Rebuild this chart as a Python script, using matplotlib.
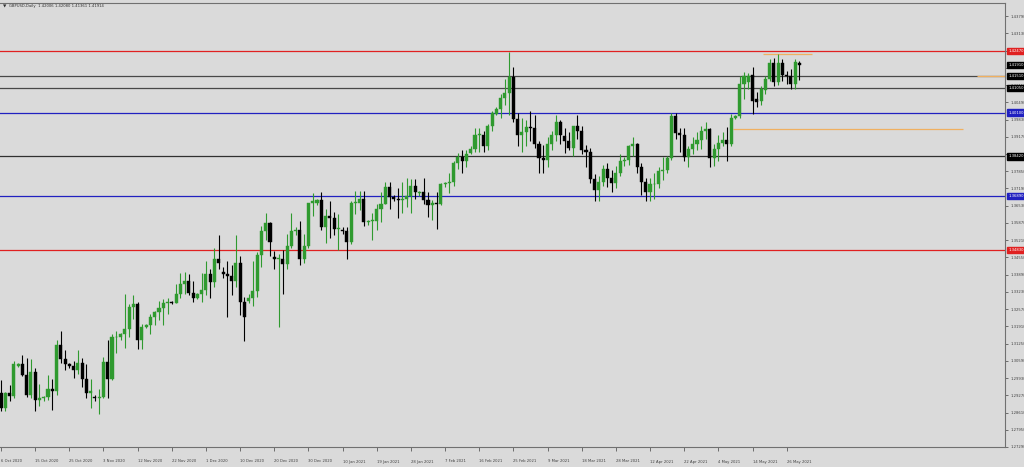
import numpy as np
import matplotlib.pyplot as plt
from matplotlib.transforms import blended_transform_factory

# ---- Data (daily GBPUSD candles) ----
opens = [1.2935, 1.2880, 1.2935, 1.2925, 1.3040, 1.3045, 1.3005, 1.2930, 1.3015, 1.2910,
         1.2915, 1.2920, 1.2950, 1.2945, 1.3120, 1.3065, 1.3045, 1.3040, 1.3025, 1.3050,
         1.2990, 1.2935, 1.2920, 1.2915, 1.2920, 1.3055, 1.2990, 1.3150, 1.3150, 1.3160,
         1.3180, 1.3265, 1.3275, 1.3140, 1.3190, 1.3195, 1.3225, 1.3245, 1.3260, 1.3280,
         1.3285, 1.3280, 1.3315, 1.3355, 1.3365, 1.3320, 1.3300, 1.3315, 1.3330, 1.3390,
         1.3360, 1.3450, 1.3400, 1.3390, 1.3385, 1.3365, 1.3435, 1.3285, 1.3290, 1.3300,
         1.3325, 1.3465, 1.3555, 1.3585, 1.3455, 1.3450, 1.3450, 1.3430, 1.3500, 1.3555,
         1.3560, 1.3450, 1.3500, 1.3665, 1.3665, 1.3675, 1.3570, 1.3615, 1.3605, 1.3565,
         1.3560, 1.3555, 1.3515, 1.3665, 1.3665, 1.3680, 1.3590, 1.3595, 1.3595, 1.3640,
         1.3660, 1.3725, 1.3685, 1.3680, 1.3675, 1.3680, 1.3690, 1.3730, 1.3700, 1.3705,
         1.3675, 1.3655, 1.3665, 1.3660, 1.3735, 1.3740, 1.3745, 1.3815, 1.3840, 1.3825,
         1.3855, 1.3870, 1.3925, 1.3925, 1.3880, 1.3960, 1.4005, 1.4025, 1.4065, 1.4085,
         1.4145, 1.3985, 1.3925, 1.3935, 1.3955, 1.3950, 1.3890, 1.3835, 1.3830, 1.3890,
         1.3925, 1.3975, 1.3920, 1.3900, 1.3875, 1.3960, 1.3940, 1.3865, 1.3860, 1.3755,
         1.3715, 1.3745, 1.3795, 1.3760, 1.3740, 1.3780, 1.3825, 1.3830, 1.3880, 1.3890,
         1.3800, 1.3745, 1.3705, 1.3735, 1.3735, 1.3785, 1.3790, 1.3835, 1.3995, 1.3930,
         1.3925, 1.3840, 1.3870, 1.3890, 1.3905, 1.3940, 1.3945, 1.3835, 1.3870, 1.3895,
         1.3905, 1.3890, 1.3990, 1.3995, 1.4120, 1.4125, 1.4155, 1.4060, 1.4055, 1.4095,
         1.4140, 1.4200, 1.4125, 1.4200, 1.4155, 1.4150, 1.4120, 1.4200]
highs = [1.2985, 1.2940, 1.2965, 1.3060, 1.3050, 1.3080, 1.3070, 1.3065, 1.3030, 1.2970,
         1.2925, 1.3005, 1.2990, 1.3140, 1.3175, 1.3100, 1.3050, 1.3060, 1.3100, 1.3070,
         1.3045, 1.2990, 1.2930, 1.2950, 1.3075, 1.3140, 1.3160, 1.3175, 1.3165, 1.3315,
         1.3275, 1.3310, 1.3285, 1.3200, 1.3200, 1.3240, 1.3250, 1.3290, 1.3295, 1.3300,
         1.3290, 1.3355, 1.3395, 1.3400, 1.3390, 1.3365, 1.3320, 1.3395, 1.3440, 1.3410,
         1.3490, 1.3540, 1.3420, 1.3440, 1.3425, 1.3540, 1.3460, 1.3305, 1.3315, 1.3440,
         1.3475, 1.3575, 1.3625, 1.3590, 1.3480, 1.3470, 1.3485, 1.3545, 1.3625, 1.3570,
         1.3595, 1.3545, 1.3660, 1.3700, 1.3680, 1.3705, 1.3640, 1.3670, 1.3630, 1.3620,
         1.3570, 1.3570, 1.3670, 1.3710, 1.3710, 1.3710, 1.3600, 1.3625, 1.3660, 1.3705,
         1.3745, 1.3745, 1.3695, 1.3720, 1.3745, 1.3760, 1.3755, 1.3755, 1.3710, 1.3760,
         1.3705, 1.3675, 1.3705, 1.3740, 1.3745, 1.3780, 1.3825, 1.3855, 1.3865, 1.3865,
         1.3880, 1.3950, 1.3950, 1.3940, 1.3965, 1.4015, 1.4030, 1.4080, 1.4140, 1.4241,
         1.4185, 1.4010, 1.3990, 1.3980, 1.4015, 1.4000, 1.3900, 1.3885, 1.3915, 1.3940,
         1.4000, 1.3980, 1.3950, 1.3935, 1.3960, 1.4000, 1.3960, 1.3885, 1.3875, 1.3775,
         1.3765, 1.3810, 1.3815, 1.3790, 1.3805, 1.3850, 1.3840, 1.3885, 1.3915, 1.3895,
         1.3815, 1.3760, 1.3760, 1.3780, 1.3800, 1.3840, 1.3845, 1.4010, 1.4010, 1.3950,
         1.3950, 1.3880, 1.3915, 1.3935, 1.3960, 1.3975, 1.3950, 1.3890, 1.3925, 1.3935,
         1.3955, 1.4005, 1.4000, 1.4150, 1.4165, 1.4160, 1.4185, 1.4090, 1.4110, 1.4150,
         1.4215, 1.4220, 1.4235, 1.4215, 1.4170, 1.4175, 1.4215, 1.4208]
lows = [1.2865, 1.2865, 1.2905, 1.2915, 1.3035, 1.3000, 1.2920, 1.2915, 1.2865, 1.2885,
        1.2905, 1.2910, 1.2870, 1.2930, 1.3050, 1.3025, 1.3030, 1.2995, 1.3010, 1.2960,
        1.2915, 1.2880, 1.2905, 1.2855, 1.2915, 1.2915, 1.2985, 1.3090, 1.3140, 1.3110,
        1.3150, 1.3220, 1.3105, 1.3105, 1.3185, 1.3160, 1.3195, 1.3215, 1.3195, 1.3240,
        1.3275, 1.3280, 1.3300, 1.3315, 1.3310, 1.3285, 1.3295, 1.3285, 1.3310, 1.3300,
        1.3340, 1.3410, 1.3375, 1.3225, 1.3310, 1.3340, 1.3235, 1.3135, 1.3280, 1.3270,
        1.3305, 1.3420, 1.3520, 1.3460, 1.3410, 1.3190, 1.3315, 1.3410, 1.3490, 1.3540,
        1.3425, 1.3435, 1.3490, 1.3615, 1.3655, 1.3560, 1.3510, 1.3530, 1.3540, 1.3485,
        1.3545, 1.3450, 1.3505, 1.3620, 1.3635, 1.3575, 1.3580, 1.3520, 1.3560, 1.3590,
        1.3660, 1.3640, 1.3670, 1.3605, 1.3625, 1.3650, 1.3625, 1.3680, 1.3690, 1.3660,
        1.3610, 1.3600, 1.3565, 1.3655, 1.3725, 1.3700, 1.3730, 1.3795, 1.3780, 1.3800,
        1.3850, 1.3860, 1.3860, 1.3860, 1.3865, 1.3940, 1.4000, 1.3990, 1.4040, 1.4000,
        1.3975, 1.3880, 1.3860, 1.3880, 1.3900, 1.3875, 1.3780, 1.3780, 1.3800, 1.3865,
        1.3900, 1.3890, 1.3855, 1.3865, 1.3845, 1.3910, 1.3850, 1.3800, 1.3740, 1.3670,
        1.3670, 1.3730, 1.3725, 1.3705, 1.3720, 1.3765, 1.3805, 1.3810, 1.3845, 1.3780,
        1.3695, 1.3670, 1.3670, 1.3680, 1.3720, 1.3750, 1.3780, 1.3830, 1.3910, 1.3860,
        1.3825, 1.3800, 1.3850, 1.3865, 1.3870, 1.3910, 1.3800, 1.3805, 1.3825, 1.3880,
        1.3825, 1.3880, 1.3985, 1.3990, 1.4060, 1.4100, 1.4005, 1.4030, 1.4040, 1.4080,
        1.4130, 1.4110, 1.4115, 1.4130, 1.4120, 1.4100, 1.4100, 1.4136]
closes = [1.2880, 1.2935, 1.2925, 1.3045, 1.3045, 1.3005, 1.2930, 1.3015, 1.2910, 1.2915,
          1.2920, 1.2950, 1.2945, 1.3120, 1.3065, 1.3045, 1.3040, 1.3025, 1.3050, 1.2990,
          1.2935, 1.2945, 1.2915, 1.2920, 1.3055, 1.2990, 1.3150, 1.3150, 1.3160, 1.3180,
          1.3265, 1.3275, 1.3140, 1.3190, 1.3195, 1.3225, 1.3245, 1.3260, 1.3280, 1.3285,
          1.3280, 1.3315, 1.3355, 1.3365, 1.3320, 1.3300, 1.3315, 1.3330, 1.3390, 1.3360,
          1.3450, 1.3435, 1.3390, 1.3385, 1.3365, 1.3435, 1.3285, 1.3225, 1.3300, 1.3325,
          1.3465, 1.3555, 1.3585, 1.3515, 1.3450, 1.3450, 1.3430, 1.3500, 1.3555, 1.3560,
          1.3450, 1.3500, 1.3665, 1.3670, 1.3675, 1.3570, 1.3615, 1.3605, 1.3565, 1.3565,
          1.3555, 1.3515, 1.3665, 1.3665, 1.3680, 1.3590, 1.3595, 1.3595, 1.3640, 1.3660,
          1.3725, 1.3685, 1.3680, 1.3675, 1.3680, 1.3690, 1.3730, 1.3705, 1.3705, 1.3675,
          1.3655, 1.3665, 1.3660, 1.3735, 1.3740, 1.3745, 1.3815, 1.3840, 1.3825, 1.3850,
          1.3870, 1.3925, 1.3925, 1.3880, 1.3960, 1.4010, 1.4025, 1.4065, 1.4085, 1.4145,
          1.3985, 1.3925, 1.3935, 1.3955, 1.3950, 1.3890, 1.3835, 1.3830, 1.3890, 1.3925,
          1.3975, 1.3925, 1.3900, 1.3875, 1.3960, 1.3940, 1.3865, 1.3860, 1.3755, 1.3715,
          1.3745, 1.3795, 1.3760, 1.3740, 1.3780, 1.3825, 1.3830, 1.3880, 1.3890, 1.3800,
          1.3745, 1.3705, 1.3735, 1.3735, 1.3785, 1.3790, 1.3835, 1.3995, 1.3930, 1.3925,
          1.3840, 1.3870, 1.3890, 1.3905, 1.3940, 1.3945, 1.3835, 1.3870, 1.3895, 1.3905,
          1.3890, 1.3990, 1.3995, 1.4120, 1.4150, 1.4150, 1.4055, 1.4050, 1.4100, 1.4140,
          1.4200, 1.4125, 1.4200, 1.4155, 1.4150, 1.4120, 1.4205, 1.4191]

date_labels = ['6 Oct 2020', '15 Oct 2020', '25 Oct 2020', '3 Nov 2020', '12 Nov 2020',
               '22 Nov 2020', '1 Dec 2020', '10 Dec 2020', '20 Dec 2020', '30 Dec 2020',
               '10 Jan 2021', '19 Jan 2021', '28 Jan 2021', '7 Feb 2021', '16 Feb 2021',
               '25 Feb 2021', '9 Mar 2021', '18 Mar 2021', '28 Mar 2021', '12 Apr 2021',
               '22 Apr 2021', '4 May 2021', '14 May 2021', '26 May 2021']
date_bars = [0, 8, 16, 24, 32, 40, 48, 56, 64, 72, 80, 88, 96, 104, 112, 120,
             128, 136, 144, 152, 160, 168, 176, 184]

# horizontal levels drawn on the chart: (price, colour, label box colour)
levels = [(1.4247, '#e02020', '#e02020'),
          (1.4151, '#484848', '#000000'),
          (1.4105, '#484848', '#000000'),
          (1.4010, '#2020c0', '#2020c0'),
          (1.3842, '#303030', '#000000'),
          (1.3689, '#2020c0', '#2020c0'),
          (1.3483, '#e02020', '#e02020')]
# orange rays: (price, start bar, end bar)
rays = [(1.4235, 178.5, 189.9), (1.3948, 171.4, 225.3), (1.4151, 228.6, 235.1)]

price_ticks = [1.27290 + 0.0066 * k for k in range(26)]

# ---- Plot ----
BG = '#dadada'
UP = '#2f9a2f'
DOWN = '#000000'
FS = 2.7

fig = plt.figure(figsize=(10.24, 4.67), dpi=100, facecolor=BG)
ax = fig.add_axes([0, 20 / 467, 1005 / 1024, 444 / 467], facecolor=BG)

x = np.arange(len(opens))
o = np.array(opens); h = np.array(highs); l = np.array(lows); c = np.array(closes)
up = c >= o
cols = np.where(up, UP, DOWN)

ax.vlines(x, l, h, colors=cols, linewidth=0.8, zorder=3)
body_lo = np.minimum(o, c)
body_h = np.maximum(np.abs(c - o), 0.00015)
ax.bar(x, body_h, bottom=body_lo, width=0.72, color=cols, edgecolor=cols,
       linewidth=0.3, zorder=4)

trans = blended_transform_factory(ax.transAxes, ax.transData)
def price_box(price, fc):
    ax.text(1.0035, price, '%.5f' % price, transform=trans, fontsize=FS,
            color='white', va='center', ha='left', clip_on=False, zorder=6,
            bbox=dict(boxstyle='square,pad=0.3', fc=fc, ec=fc))

for price, lc, bc in levels:
    ax.axhline(price, color=lc, linewidth=0.9, zorder=2)
    price_box(price, bc)
for price, x0, x1 in rays:
    ax.hlines(price, x0, x1, colors='#f0b060', linewidth=0.9, zorder=2)

# current price box
price_box(closes[-1], 'black')

ax.set_xlim(-0.234, 235.13)
ax.set_ylim(1.27355, 1.44294)

ax.yaxis.tick_right()
ax.set_yticks(price_ticks)
ax.set_yticklabels(['%.5f' % p for p in price_ticks])
ax.tick_params(axis='y', labelsize=FS, length=2.5, width=0.5, colors='#404040', pad=1.2)
ax.set_xticks(date_bars)
ax.set_xticklabels(date_labels, ha='left')
ax.tick_params(axis='x', labelsize=FS, length=3, width=0.5, colors='#404040', pad=6)

ax.spines['left'].set_visible(False)
for s in ['right', 'bottom', 'top']:
    ax.spines[s].set_color('#707070')
    ax.spines[s].set_linewidth(0.8)

fig.text(3 / 1024, 1 - 6 / 467, '\u25bc', fontsize=3.2, color='#303030', va='center')
fig.text(9 / 1024, 1 - 6 / 467, 'GBPUSD,Daily  1.42006 1.42080 1.41361 1.41914',
         fontsize=FS, color='#303030', va='center')

fig.savefig('out.png', dpi=100, facecolor=BG)
